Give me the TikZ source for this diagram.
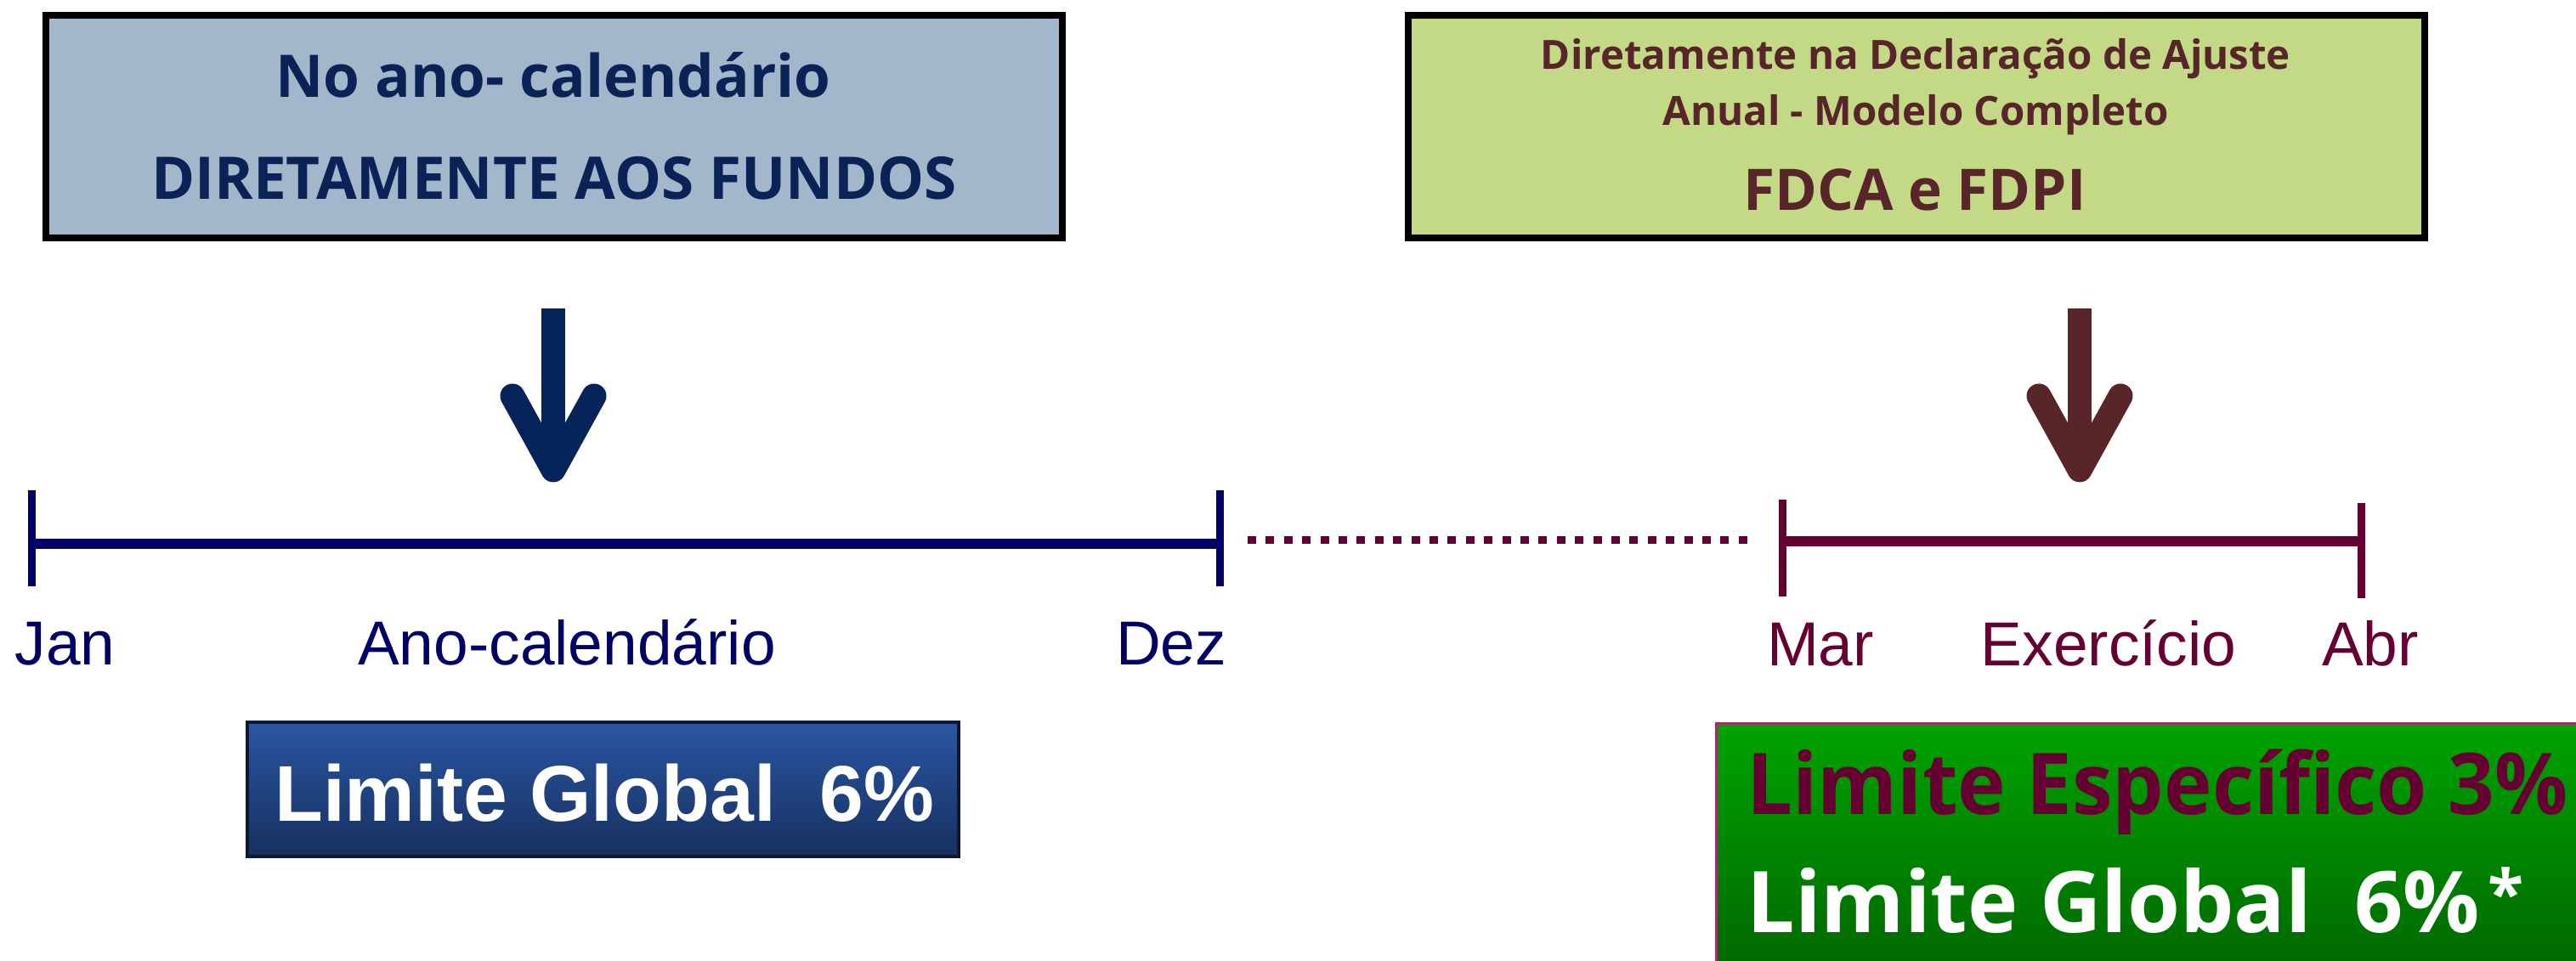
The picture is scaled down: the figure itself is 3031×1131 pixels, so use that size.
\documentclass[tikz,border=0pt]{standalone}
\usepackage{fontspec}
\usepackage{graphicx}
\setmainfont{Open Sans}
\newfontfamily\arialf{Liberation Sans}
\definecolor{navytxt}{HTML}{0B2256}
\definecolor{bluefill}{HTML}{A3B7CB}
\definecolor{browntxt}{HTML}{58262A}
\definecolor{greenfill}{HTML}{C4D986}
\definecolor{navyline}{HTML}{000066}
\definecolor{maroonline}{HTML}{660033}
\definecolor{arrowblue}{HTML}{06235A}
\definecolor{arrowbrown}{HTML}{582628}
\definecolor{btop}{HTML}{2A56A2}
\definecolor{bbot}{HTML}{16305F}
\definecolor{bborder}{HTML}{0B1838}
\definecolor{gtop}{HTML}{00A300}
\definecolor{gbot}{HTML}{005C00}
\definecolor{gborder}{HTML}{993366}
\tikzset{
  topbox/.style={draw=black, line width=0.8mm, inner sep=0pt, minimum width=119.6mm, minimum height=26.2mm},
  txt/.style={inner sep=0pt, anchor=base},
  tickline/.style={line width=0.9mm},
  axisline/.style={line width=1.2mm},
  shaft/.style={line width=2.8mm},
  headv/.style={line width=2.9mm, line cap=round, line join=round},
  lbl/.style={txt, font=\arialf\fontsize{20.8}{24}\selectfont},
}
\begin{document}
\begin{tikzpicture}[x=0.1mm, y=-0.1mm]
\useasboundingbox (0,0) rectangle (3031,1131);
\clip (0,0) rectangle (3031,1131);
% top boxes
\node[topbox, fill=bluefill] (lbox) at (652,149) {};
\node[topbox, fill=greenfill] (rbox) at (2254.5,149) {};
\node[txt, text=navytxt, font=\bfseries\fontsize{19.7}{24}\selectfont] (lt1) at (651,115) {No ano- calendário};
\node[txt, text=navytxt, font=\bfseries\fontsize{19.7}{24}\selectfont] (lt2) at (652,235) {DIRETAMENTE AOS FUNDOS};
\node[txt, text=browntxt, font=\bfseries\fontsize{13.5}{16}\selectfont] (rt1) at (2254,82) {Diretamente na Declaração de Ajuste};
\node[txt, text=browntxt, font=\bfseries\fontsize{13.5}{16}\selectfont] (rt2) at (2254,148) {Anual - Modelo Completo};
\node[txt, text=browntxt, font=\bfseries\fontsize{19.2}{22}\selectfont] (rt3) at (2253,248) {FDCA e FDPI};
% arrows
\coordinate (la0) at (651,363);
\coordinate (la1) at (651,540);
\coordinate (laL) at (603,466);
\coordinate (laT) at (651,553);
\coordinate (laR) at (699,466);
\draw[shaft, arrowblue] (la0) -- (la1);
\draw[headv, arrowblue] (laL) -- (laT) -- (laR);
\coordinate (ra0) at (2447,363);
\coordinate (ra1) at (2447,540);
\coordinate (raL) at (2399,466);
\coordinate (raT) at (2447,553);
\coordinate (raR) at (2495,466);
\draw[shaft, arrowbrown] (ra0) -- (ra1);
\draw[headv, arrowbrown] (raL) -- (raT) -- (raR);
% left timeline
\coordinate (jan) at (37,640);
\coordinate (dez) at (1435,640);
\draw[axisline, navyline] (jan) -- (dez);
\draw[tickline, navyline] (37,577) -- (37,690);
\draw[tickline, navyline] (1435,577) -- (1435,690);
% dotted
\coordinate (d0) at (1468,635);
\coordinate (d1) at (2067,635);
\draw[maroonline, line width=0.9mm, dash pattern=on 1mm off 1.14mm] (d0) -- (d1);
% right timeline
\coordinate (mar) at (2097,637);
\coordinate (abr) at (2778,637);
\draw[axisline, maroonline] (mar) -- (abr);
\draw[tickline, maroonline] (2097,588) -- (2097,702);
\draw[tickline, maroonline] (2778,592) -- (2778,704);
% labels
\node[lbl, text=navyline, anchor=base west] (tjan) at (17,782) {Jan};
\node[lbl, text=navyline] (tano) at (667,782) {Ano-calendário};
\node[lbl, text=navyline] (tdez) at (1378,782) {Dez};
\node[lbl, text=maroonline] (tmar) at (2142,783) {Mar};
\node[lbl, text=maroonline] (texe) at (2481,783) {Exercício};
\node[lbl, text=maroonline] (tabr) at (2789,783) {Abr};
% bottom boxes
\node[draw=bborder, line width=0.4mm, top color=btop, bottom color=bbot, inner sep=0pt, minimum width=83.7mm, minimum height=15.8mm] (bbox) at (709.5,929) {};
\node[txt, text=white, font=\arialf\bfseries\fontsize{26.5}{30}\selectfont] (btxt) at (711,966) {Limite Global\hspace{0.55em}6\%};
\node[draw=gborder, line width=0.25mm, top color=gtop, bottom color=gbot, inner sep=0pt, minimum width=108.2mm, minimum height=35mm, anchor=north west] (gbox) at (2018,850) {};
\node[txt, anchor=base west, text=maroonline, font=\bfseries\fontsize{28.5}{32}\selectfont] (gt1) at (2055,958) {\scalebox{0.955}[1]{Limite Específico 3\%}};
\node[txt, anchor=base west, text=white, font=\bfseries\fontsize{28.5}{32}\selectfont] (gt2) at (2055,1097) {Limite Global\hspace{0.5em}6\%\hspace{0.1em}\raisebox{5pt}{\fontsize{22}{24}\selectfont *}};
\end{tikzpicture}
\end{document}
